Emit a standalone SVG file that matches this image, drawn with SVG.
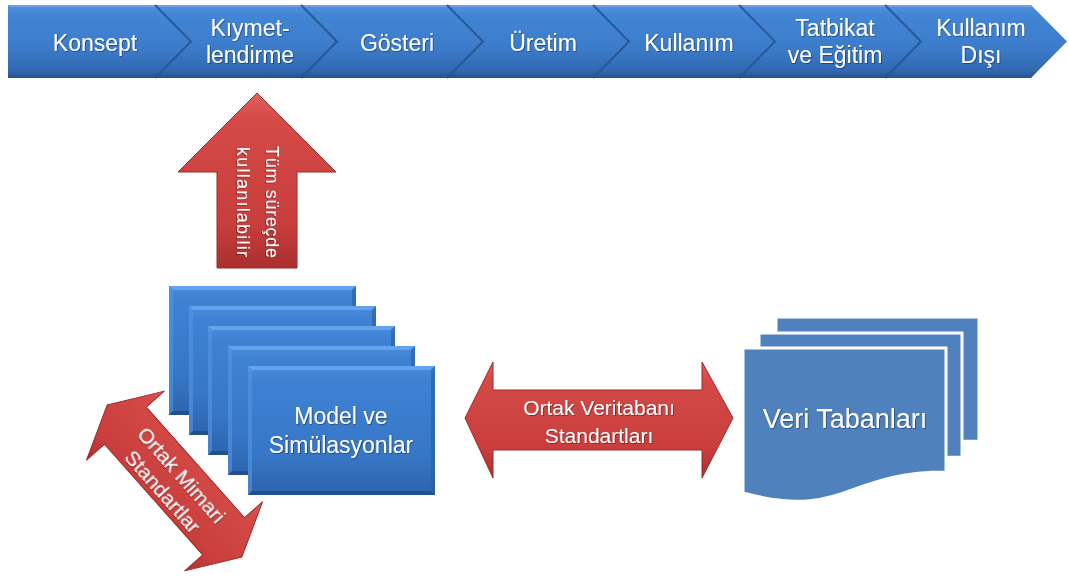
<svg xmlns="http://www.w3.org/2000/svg" xmlns:xlink="http://www.w3.org/1999/xlink" width="1069" height="577" viewBox="0 0 1069 577">
  <defs>
    <linearGradient id="barFill" x1="0" y1="0" x2="0" y2="1">
      <stop offset="0" stop-color="#5593df"/>
      <stop offset="0.12" stop-color="#4386d6"/>
      <stop offset="0.6" stop-color="#3b7bca"/>
      <stop offset="0.9" stop-color="#3168b0"/>
      <stop offset="1" stop-color="#24518c"/>
    </linearGradient>
    <linearGradient id="boxFill" x1="0" y1="0" x2="0" y2="1">
      <stop offset="0" stop-color="#4a8ddd"/>
      <stop offset="0.1" stop-color="#3f82d4"/>
      <stop offset="0.7" stop-color="#3676c6"/>
      <stop offset="1" stop-color="#2d64ac"/>
    </linearGradient>
    <linearGradient id="redFill" x1="0" y1="0" x2="0" y2="1">
      <stop offset="0" stop-color="#e0605c"/>
      <stop offset="0.15" stop-color="#d44a47"/>
      <stop offset="0.75" stop-color="#c93e3c"/>
      <stop offset="1" stop-color="#a92f2e"/>
    </linearGradient>
    <filter id="txtShadow" x="-10%" y="-30%" width="120%" height="160%">
      <feDropShadow dx="0.8" dy="0.8" stdDeviation="0.6" flood-color="#000" flood-opacity="0.45"/>
    </filter>
    <!-- one bevelled model card, reused for the stack -->
    <g id="mbox">
      <rect x="0" y="0" width="187" height="129" fill="url(#boxFill)"/>
      <polygon points="0,0 187,0 183,4 4,4" fill="#6aa8f0" opacity="0.8"/>
      <polygon points="0,0 4,4 4,125 0,129" fill="#5596e2" opacity="0.6"/>
      <polygon points="187,0 187,129 183,125 183,4" fill="#2a5c9e" opacity="0.6"/>
      <polygon points="0,129 187,129 183,125 4,125" fill="#1f4a82" opacity="0.75"/>
    </g>
    <!-- document page with wavy bottom -->
    <path id="docPage" d="M0,0 H203 V124 C101.5,124 101.5,172 0,145 Z"/>
  </defs>
  <style>
    .lbl { font-family: "Liberation Sans", Arial, sans-serif; fill: #ffffff; text-anchor: middle; }
    .bar { font-size: 23px; }
    .notch { fill: none; stroke: #22508c; stroke-width: 2; stroke-opacity: 0.85; }
    .hi { fill: none; stroke: #78aef0; stroke-width: 1.5; stroke-opacity: 0.8; }
    .redEdge { stroke: #9c2a2a; stroke-width: 1; stroke-linejoin: round; }
    .page { fill: #4f81bd; stroke: #ffffff; stroke-width: 3; }
  </style>

  <!-- process bar -->
  <g id="phase-konsept">
    <path d="M8,5 H155 L191,41.5 L155,78 H8 Z" fill="url(#barFill)"/>
    <path class="hi" d="M9,6 H155"/>
    <text class="lbl bar" x="95" y="51" filter="url(#txtShadow)">Konsept</text>
  </g>
  <g id="phase-kiymetlendirme">
    <path d="M155,5 H301 L337,41.5 L301,78 H155 L191,41.5 Z" fill="url(#barFill)"/>
    <path class="hi" d="M156,6 H301"/>
    <path class="notch" d="M155,5 L191,41.5 L155,78"/>
    <text class="lbl bar" x="250" y="36" filter="url(#txtShadow)">Kıymet-</text>
    <text class="lbl bar" x="250" y="63" filter="url(#txtShadow)">lendirme</text>
  </g>
  <g id="phase-gosteri">
    <path d="M301,5 H447 L483,41.5 L447,78 H301 L337,41.5 Z" fill="url(#barFill)"/>
    <path class="hi" d="M302,6 H447"/>
    <path class="notch" d="M301,5 L337,41.5 L301,78"/>
    <text class="lbl bar" x="397" y="51" filter="url(#txtShadow)">Gösteri</text>
  </g>
  <g id="phase-uretim">
    <path d="M447,5 H593 L629,41.5 L593,78 H447 L483,41.5 Z" fill="url(#barFill)"/>
    <path class="hi" d="M448,6 H593"/>
    <path class="notch" d="M447,5 L483,41.5 L447,78"/>
    <text class="lbl bar" x="543" y="51" filter="url(#txtShadow)">Üretim</text>
  </g>
  <g id="phase-kullanim">
    <path d="M593,5 H739 L775,41.5 L739,78 H593 L629,41.5 Z" fill="url(#barFill)"/>
    <path class="hi" d="M594,6 H739"/>
    <path class="notch" d="M593,5 L629,41.5 L593,78"/>
    <text class="lbl bar" x="689" y="51" filter="url(#txtShadow)">Kullanım</text>
  </g>
  <g id="phase-tatbikat">
    <path d="M739,5 H885 L921,41.5 L885,78 H739 L775,41.5 Z" fill="url(#barFill)"/>
    <path class="hi" d="M740,6 H885"/>
    <path class="notch" d="M739,5 L775,41.5 L739,78"/>
    <text class="lbl bar" x="835" y="36" filter="url(#txtShadow)">Tatbikat</text>
    <text class="lbl bar" x="835" y="63" filter="url(#txtShadow)">ve Eğitim</text>
  </g>
  <g id="phase-kullanim-disi">
    <path d="M885,5 H1031 L1067,41.5 L1031,78 H885 L921,41.5 Z" fill="url(#barFill)"/>
    <path class="hi" d="M886,6 H1031"/>
    <path class="notch" d="M885,5 L921,41.5 L885,78"/>
    <text class="lbl bar" x="981" y="36" filter="url(#txtShadow)">Kullanım</text>
    <text class="lbl bar" x="981" y="63" filter="url(#txtShadow)">Dışı</text>
  </g>

  <!-- stack of model cards -->
  <g id="model-simulasyon">
    <use xlink:href="#mbox" x="169" y="286"/>
    <use xlink:href="#mbox" x="189" y="306"/>
    <use xlink:href="#mbox" x="208" y="326"/>
    <use xlink:href="#mbox" x="228" y="346"/>
    <use xlink:href="#mbox" x="248" y="366"/>
    <text class="lbl" font-size="23" x="341" y="424" filter="url(#txtShadow)">Model ve</text>
    <text class="lbl" font-size="23" x="341" y="453" filter="url(#txtShadow)">Simülasyonlar</text>
  </g>

  <!-- stacked database documents -->
  <g id="veri-tabanlari">
    <use xlink:href="#docPage" class="page" x="776" y="317"/>
    <use xlink:href="#docPage" class="page" x="759" y="333"/>
    <use xlink:href="#docPage" class="page" x="743" y="348"/>
    <text class="lbl" font-size="27" x="845" y="428" filter="url(#txtShadow)">Veri Tabanları</text>
  </g>

  <!-- block arrows linking the parts -->
  <g id="connectors">
    <g id="arrow-tum-surecte">
      <path class="redEdge" d="M257,93 L336,172 L297,172 L297,268 L217,268 L217,172 L178,172 Z" fill="url(#redFill)"/>
      <text class="lbl" font-size="18" transform="translate(266,202) rotate(90)" textLength="112" lengthAdjust="spacing" filter="url(#txtShadow)">Tüm süreçde</text>
      <text class="lbl" font-size="18" transform="translate(237,202) rotate(90)" textLength="110" lengthAdjust="spacing" filter="url(#txtShadow)">kullanılabilir</text>
    </g>
    <g id="arrow-veritabani">
      <path class="redEdge" d="M465,418 L493,362 L493,390 L702,390 L702,362 L733,418 L702,478 L702,450 L493,450 L493,478 Z" fill="url(#redFill)"/>
      <text class="lbl" font-size="21" x="599" y="415" filter="url(#txtShadow)">Ortak Veritabanı</text>
      <text class="lbl" font-size="21" x="599" y="443" filter="url(#txtShadow)">Standartları</text>
    </g>
    <g id="arrow-mimari" transform="translate(174.5,481) rotate(48.4)">
      <path class="redEdge" d="M-101.5,0 L-74,-52 L-74,-28 L74,-28 L74,-52 L101.5,0 L74,52 L74,28 L-74,28 L-74,52 Z" fill="url(#redFill)"/>
      <text class="lbl" font-size="21" x="0" y="-2.5" filter="url(#txtShadow)">Ortak Mimari</text>
      <text class="lbl" font-size="21" x="0" y="23.5" filter="url(#txtShadow)">Standartlar</text>
    </g>
  </g>
</svg>
